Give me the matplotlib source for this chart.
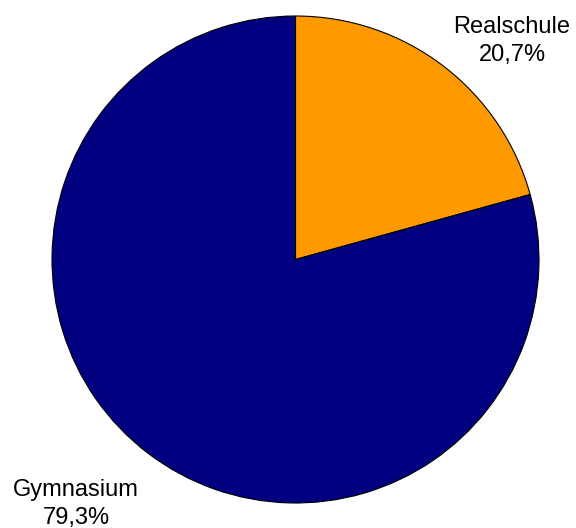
import matplotlib.pyplot as plt

plt.rcParams['font.family'] = ['Liberation Sans', 'DejaVu Sans']

# Anteile der Schularten
labels = ['Realschule', 'Gymnasium']
values = [20.7, 79.3]
colors = ['#FF9900', '#000080']

fig = plt.figure(figsize=(5.76, 5.28), dpi=100)
ax = fig.add_axes([0, 0, 1, 1])

# Kreis in Pixelkoordinaten: Mittelpunkt (295.5, 268.5), Radius 243.5
ax.pie(values, colors=colors, startangle=90, counterclock=False,
       center=(295.5, 268.5), radius=243.5,
       wedgeprops=dict(edgecolor='black', linewidth=0.8))

ax.set_xlim(0, 576)
ax.set_ylim(0, 528)
ax.set_aspect('equal')
ax.axis('off')

def fmt(v):
    return f'{v:.1f}%'.replace('.', ',')

# Beschriftungen
label_pos = [(512, 487), (76, 24)]
for name, v, (x, y) in zip(labels, values, label_pos):
    ax.text(x, y, name + '\n' + fmt(v), ha='center', va='center',
            fontsize=17, linespacing=1.4, color='black')

fig.savefig('out.png', dpi=100)
